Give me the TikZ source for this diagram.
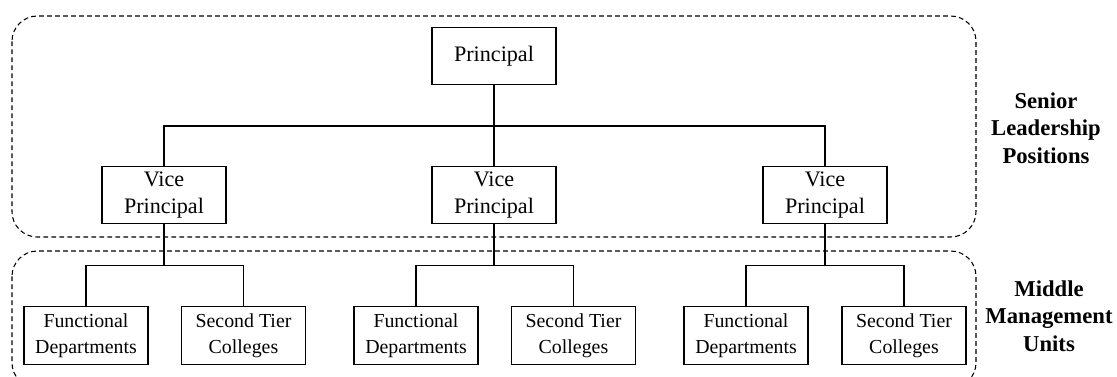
\documentclass[tikz,border=0pt]{standalone}
\usepackage{fontspec}
\setmainfont{Liberation Serif}
\begin{document}
\begin{tikzpicture}[x=0.75pt,y=-0.75pt,
  group/.style={draw, dash pattern=on 3.6pt off 2.4pt, line width=0.8pt, rounded corners=19pt},
  topbox/.style={draw, line width=0.9pt, minimum width=93pt, minimum height=42.5pt, inner sep=1pt,
    align=center, font=\fontsize{16.6}{20}\selectfont},
  unitbox/.style={draw, line width=0.9pt, minimum width=93pt, minimum height=43pt, inner sep=1pt,
    align=center, font=\fontsize{14.9}{19.5}\selectfont},
  tierlabel/.style={align=center, font=\bfseries\fontsize{17}{20.6}\selectfont},
  link/.style={line width=0.8pt},
  stem/.style={line width=1.2pt}]
\useasboundingbox (0,0) rectangle (1117,376);

% tier frames
\draw[group] (12,16) rectangle (976,237);
\draw[group] (12,251) rectangle (976,388);

% senior leadership
\node[topbox] (P) at (494,56) {Principal};
\node[topbox] (V1) at (164,195) {Vice\\Principal};
\node[topbox] (V2) at (494,195) {Vice\\Principal};
\node[topbox] (V3) at (825,195) {Vice\\Principal};

% middle management units
\node[unitbox] (F1) at (86,335.5) {Functional\\Departments};
\node[unitbox] (S1) at (243.5,335.5) {Second Tier\\Colleges};
\node[unitbox] (F2) at (416,335.5) {Functional\\Departments};
\node[unitbox] (S2) at (573.5,335.5) {Second Tier\\Colleges};
\node[unitbox] (F3) at (746,335.5) {Functional\\Departments};
\node[unitbox] (S3) at (904,335.5) {Second Tier\\Colleges};

% tier labels
\node[tierlabel] (LS) at (1046,128) {Senior\\Leadership\\Positions};
\node[tierlabel] (LM) at (1049,316) {Middle\\Management\\Units};

% branch points
\coordinate (bT) at (494,126);
\coordinate (b1) at (164,265.5);
\coordinate (b2) at (494,265.5);
\coordinate (b3) at (825,265.5);

% principal to vice principals
\draw[stem] (P.south) -- (bT);
\draw[link] (V1.north) |- (bT) -| (V3.north);
\draw[link] (bT) -- (V2.north);

% vice principals to units
\draw[stem] (V1.south) -- (b1);
\draw[link] (F1.north) |- (b1) -| (S1.north);
\draw[stem] (V2.south) -- (b2);
\draw[link] (F2.north) |- (b2) -| (S2.north);
\draw[stem] (V3.south) -- (b3);
\draw[link] (F3.north) |- (b3) -| (S3.north);
\end{tikzpicture}
\end{document}
